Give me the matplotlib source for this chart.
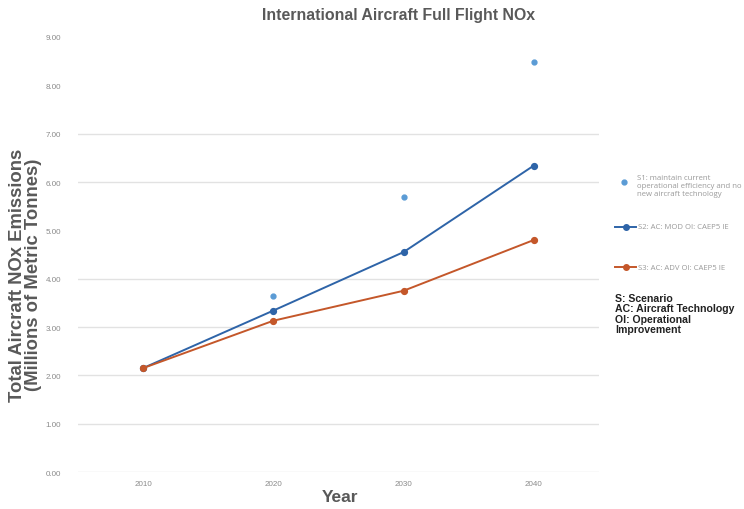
import matplotlib
matplotlib.use("Agg")
import matplotlib.pyplot as plt
from matplotlib.lines import Line2D

# Data
years = ["2010", "2020", "2030", "2040"]
s1_current = [2.15, 3.64, 5.69, 8.49]
s2_mod = [2.15, 3.34, 4.55, 6.34]
s3_adv = [2.15, 3.13, 3.75, 4.80]
y_ticks = [0, 1, 2, 3, 4, 5, 6, 7, 8, 9]
grid_levels = [0, 1, 2, 3, 4, 6, 7]

labels = [
    "S1: maintain current\noperational efficiency and no\nnew aircraft technology",
    "S2: AC: MOD OI: CAEP5 IE",
    "S3: AC: ADV OI: CAEP5 IE",
]
note = "S: Scenario\nAC: Aircraft Technology\nOI: Operational\nImprovement"

c_s1 = "#5B9BD5"
c_s2 = "#2E64A8"
c_s3 = "#C4572A"
tick_c = "#8a8a8a"
label_c = "#595959"

plt.rcParams["font.family"] = ["Liberation Sans", "DejaVu Sans"]

fig = plt.figure(figsize=(7.44, 5.10), dpi=100)
ax = fig.add_axes([0.1048, 0.0725, 0.7002, 0.853])

x = list(range(len(years)))

for lvl in grid_levels:
    ax.axhline(lvl, color="#e2e2e2", lw=1.0, zorder=0)

ax.plot(x, s1_current, ls="none", marker="o", ms=3.5, color=c_s1, zorder=3)
ax.plot(x, s2_mod, color=c_s2, lw=1.4, marker="o", ms=4.2, zorder=3)
ax.plot(x, s3_adv, color=c_s3, lw=1.4, marker="o", ms=4.2, zorder=4)

ax.set_xlim(-0.5, len(years) - 0.5)
ax.set_ylim(0, 9)
ax.set_xticks(x)
ax.set_xticklabels(years)
ax.set_yticks(y_ticks)
ax.set_yticklabels([f"{v:.2f}" for v in y_ticks])
ax.tick_params(axis="both", length=0, labelsize=5.8, colors=tick_c)
ax.tick_params(axis="y", pad=12)
ax.tick_params(axis="x", pad=6)
for sp in ax.spines.values():
    sp.set_visible(False)

fig.text(0.536, 0.970, "International Aircraft Full Flight NOx", ha="center",
         va="center", fontsize=11.4, fontweight="bold", color=label_c)
fig.text(0.034, 0.461, "Total Aircraft NOx Emissions\n(Millions of Metric Tonnes)",
         ha="center", va="center", rotation=90, fontsize=13.3, fontweight="bold",
         color=label_c, linespacing=0.95)
fig.text(0.457, 0.025, "Year", ha="center", va="center", fontsize=12.5,
         fontweight="bold", color=label_c)

# Legend drawn in figure coordinates
def fy(py):
    return 1 - py / 510

def fx(px):
    return px / 744

fig.add_artist(Line2D([fx(624)], [fy(183)], ls="none", marker="o", ms=3.5,
                      color=c_s1, transform=fig.transFigure))
fig.text(fx(637), fy(187), labels[0], ha="left", va="center", fontsize=5.6,
         color="#9a9a9a", family=["Open Sans", "DejaVu Sans"], linespacing=1.2)

for py, col, lab in [(228, c_s2, labels[1]), (268, c_s3, labels[2])]:
    fig.add_artist(Line2D([fx(615), fx(636)], [fy(py), fy(py)], color=col, lw=1.4,
                          transform=fig.transFigure))
    fig.add_artist(Line2D([fx(625.5)], [fy(py)], ls="none", marker="o", ms=4,
                          color=col, transform=fig.transFigure))
    fig.text(fx(638), fy(py), lab, ha="left", va="center", fontsize=5.6,
             color="#9a9a9a", family=["Open Sans", "DejaVu Sans"])

fig.text(fx(615), fy(314.5), note, ha="left", va="center", fontsize=7.6,
         fontweight="bold", color="#222222", linespacing=1.05)

fig.savefig("out.png", dpi=100, facecolor="white")
